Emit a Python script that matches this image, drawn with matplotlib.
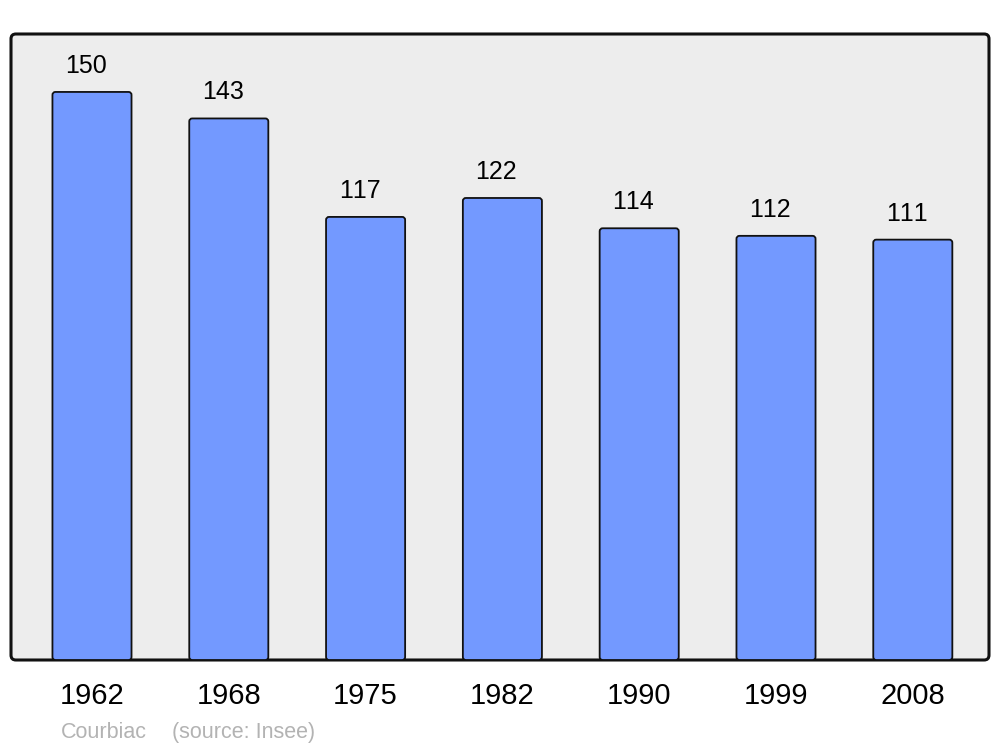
import matplotlib
matplotlib.use("Agg")
import matplotlib.pyplot as plt
from matplotlib.patches import FancyBboxPatch

years = ["1962", "1968", "1975", "1982", "1990", "1999", "2008"]
population = [150, 143, 117, 122, 114, 112, 111]

plt.rcParams["font.family"] = ["Liberation Sans", "DejaVu Sans"]
plt.rcParams["text.kerning_factor"] = 10  # practically no kerning, like the reference

W, H = 1000, 747
fig = plt.figure(figsize=(W / 100, H / 100), dpi=100)
ax_left, ax_top, ax_right, ax_bottom = 11, 34, 989, 660
ax = fig.add_axes([ax_left / W, (H - ax_bottom) / H,
                   (ax_right - ax_left) / W, (ax_bottom - ax_top) / H])
ax.set_facecolor("none")

xlim = (-0.592, 6.557)
ylim = (0, 165.3)
ax.set_xlim(*xlim)
ax.set_ylim(*ylim)

# rounded frame
frame_w = ax_right - ax_left
frame_h = ax_bottom - ax_top
frame = FancyBboxPatch((0, 0), 1, 1, boxstyle="round,pad=0,rounding_size=0.005",
                       mutation_aspect=frame_w / frame_h,
                       transform=ax.transAxes, facecolor="#ededed",
                       edgecolor="#111111", linewidth=2.2, clip_on=False, zorder=0)
ax.add_patch(frame)

# bars with small rounded corners
px_per_x = frame_w / (xlim[1] - xlim[0])
px_per_y = frame_h / (ylim[1] - ylim[0])
x = list(range(len(years)))
bars = ax.bar(x, population, width=0.578, color="#7399ff")
for b in bars:
    b.set_visible(False)
    r = FancyBboxPatch((b.get_x(), b.get_y()), b.get_width(), b.get_height(),
                       boxstyle="round,pad=0,rounding_size=%f" % (3 / px_per_x),
                       mutation_aspect=px_per_x / px_per_y,
                       facecolor="#7399ff", edgecolor="#111111",
                       linewidth=1.3, zorder=2)
    ax.add_patch(r)

for xi, v in zip(x, population):
    ax.annotate(str(v), (xi, v), xytext=(-6, 14), textcoords="offset pixels",
                ha="center", va="bottom", fontsize=18, color="black")

for s in ax.spines.values():
    s.set_visible(False)
ax.set_xticks(x)
ax.set_xticklabels(years, fontsize=21)
ax.tick_params(axis="x", length=0, pad=16)
ax.set_yticks([])

fig.text(61 / W, 1 - 738 / H, "Courbiac", fontsize=15.5, color="#b3b3b3", va="baseline")
fig.text(172 / W, 1 - 738 / H, "(source: Insee)", fontsize=15.5, color="#b3b3b3", va="baseline")

fig.savefig("out.png", dpi=100)
